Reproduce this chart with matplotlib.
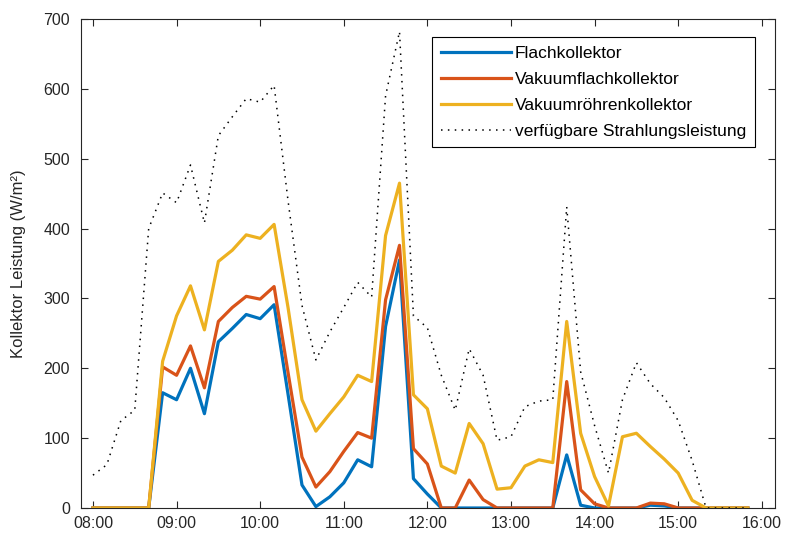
import numpy as np
import matplotlib
matplotlib.use("Agg")
import matplotlib.pyplot as plt
from matplotlib.ticker import FuncFormatter

# Zeitachse: 10-Minuten-Werte ab 08:00
minutes = np.arange(0, 480, 10)
hours = 8 + minutes / 60.0

flach = [0, 0, 0, 0, 0, 165, 155, 200, 135, 238, 257, 277, 271, 291, 163, 33,
         2, 16, 36, 69, 59, 260, 355, 42, 20, 0, 0, 0, 0, 0, 0, 0,
         0, 0, 76, 4, 0, 0, 0, 0, 4, 3, 0, 0, 0, 0, 0, 0]
vakuum_flach = [0, 0, 0, 0, 0, 202, 190, 232, 172, 267, 287, 303, 299, 317, 194, 73,
                30, 52, 81, 108, 100, 298, 376, 85, 63, 0, 0, 40, 12, 0, 0, 0,
                0, 0, 181, 26, 6, 0, 0, 0, 7, 6, 0, 0, 0, 0, 0, 0]
vakuum_roehre = [0, 0, 0, 0, 0, 210, 275, 318, 255, 353, 369, 391, 386, 406, 287, 155,
                 110, 135, 159, 190, 181, 390, 465, 162, 142, 60, 50, 121, 92, 27, 29, 60,
                 69, 65, 267, 107, 45, 3, 102, 107, 88, 70, 50, 11, 0, 0, 0, 0]
strahlung = [47, 62, 125, 140, 400, 451, 437, 491, 408, 533, 560, 586, 581, 605, 440, 290,
             212, 252, 287, 323, 302, 590, 682, 275, 258, 190, 140, 228, 190, 97, 102, 145,
             153, 155, 431, 195, 118, 50, 155, 208, 178, 158, 125, 68, 0, 0, 0, 0]

labels = ['Flachkollektor', 'Vakuumflachkollektor', 'Vakuumröhrenkollektor',
          'verfügbare Strahlungsleistung']
farben = ['#0072BD', '#D95319', '#EDB120']

plt.rcParams['font.family'] = ['Liberation Sans', 'DejaVu Sans']

fig = plt.figure(figsize=(7.87, 5.39), dpi=100)
ax = fig.add_axes([81 / 787, 1 - 508 / 539, 694 / 787, 489 / 539])

for werte, farbe, name in zip([flach, vakuum_flach, vakuum_roehre], farben, labels[:3]):
    ax.plot(hours, werte, color=farbe, linewidth=2.3, label=name)
ax.plot(hours, strahlung, color='black', linestyle=(0, (1, 3.5)), linewidth=1.1,
        label=labels[3])

ax.set_xlim(7.857, 16.158)
ax.set_ylim(0, 700)
ax.set_xticks(np.arange(8, 17, 1))
ax.xaxis.set_major_formatter(FuncFormatter(lambda v, p: f"{int(round(v)):02d}:00"))
ax.set_yticks(np.arange(0, 701, 100))
ax.tick_params(direction='in', top=True, right=True, length=5, width=0.8,
               labelsize=11.5, colors='#262626')
ax.tick_params(axis='y', pad=8)
ax.tick_params(axis='x', pad=6)
for s in ax.spines.values():
    s.set_linewidth(0.8)
    s.set_color('#262626')

ax.set_ylabel('Kollektor Leistung (W/m²)', fontsize=12, color='#262626', labelpad=12)

leg = ax.legend(loc='upper right', bbox_to_anchor=(0.971, 0.963), borderaxespad=0,
                fontsize=12.5, handlelength=4.0, handletextpad=0.25, fancybox=False,
                framealpha=1, edgecolor='black', labelspacing=0.62, borderpad=0.5)
leg.get_frame().set_linewidth(0.8)

fig.savefig('out.png', dpi=100)
